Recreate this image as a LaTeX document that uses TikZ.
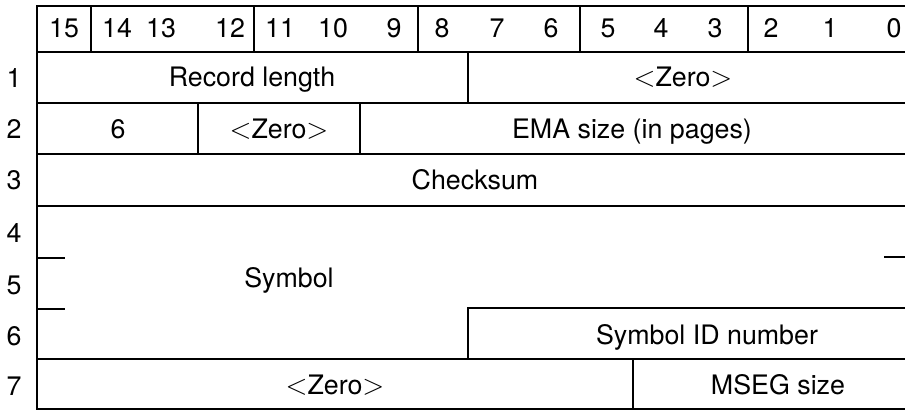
\documentclass[tikz,border=0pt]{standalone}
\usepackage{fontspec}
\setmainfont{TeX Gyre Heros}
\newcommand{\zerofield}{$<$Zero$>$}
\begin{document}
\begin{tikzpicture}[x=0.5pt,y=-0.5pt,
  grid/.style={line width=0.9pt,black,line cap=rect},
  lbl/.style={anchor=base,inner sep=0pt,font=\fontsize{13.4}{16}\selectfont}]
\useasboundingbox (0,0) rectangle (905,411);
% outer and row lines
\draw[grid] (37,6) -- (915,6);
\draw[grid] (37,52) -- (915,52);
\draw[grid] (37,103) -- (915,103);
\draw[grid] (37,154) -- (915,154);
\draw[grid] (37,206) -- (915,206);
\draw[grid] (468,308) -- (915,308);
\draw[grid] (37,359) -- (915,359);
\draw[grid] (37,409) -- (915,409);
\draw[grid] (37,6) -- (37,409);
% header dividers
\foreach \x in {91,254,418,580,748} \draw[grid] (\x,6) -- (\x,52);
% field dividers
\draw[grid] (468,52) -- (468,103);
\draw[grid] (198,103) -- (198,154);
\draw[grid] (360,103) -- (360,154);
\draw[grid] (468,308) -- (468,359);
\draw[grid] (633,359) -- (633,409);
% continuation ticks
\draw[grid] (37,258) -- (64,258);
\draw[grid] (37,309) -- (64,309);
\draw[grid] (885,257) -- (915,257);
% header bit numbers
\node[lbl] (h15) at (64,38) {15};
\node[lbl] (h14) at (117,38) {14};
\node[lbl] (h13) at (161,38) {13};
\node[lbl] (h12) at (230,38) {12};
\node[lbl] (h11) at (280,38) {11};
\node[lbl] (h10) at (333,38) {10};
\node[lbl] (h9) at (394,38) {9};
\node[lbl] (h8) at (442,38) {8};
\node[lbl] (h7) at (497,38) {7};
\node[lbl] (h6) at (551,38) {6};
\node[lbl] (h5) at (608,38) {5};
\node[lbl] (h4) at (661,38) {4};
\node[lbl] (h3) at (715,38) {3};
\node[lbl] (h2) at (771,38) {2};
\node[lbl] (h1) at (830,38) {1};
\node[lbl] (h0) at (894,38) {0};
% row numbers
\node[lbl] (r1) at (14,88) {1};
\node[lbl] (r2) at (14,139) {2};
\node[lbl] (r3) at (14,190) {3};
\node[lbl] (r4) at (14,243) {4};
\node[lbl] (r5) at (14,294) {5};
\node[lbl] (r6) at (14,345) {6};
\node[lbl] (r7) at (14,395) {7};
% fields
\node[lbl] (reclen) at (252,87) {Record length};
\node[lbl] (zero1) at (683,87) {\zerofield};
\node[lbl] (six) at (118,139) {6};
\node[lbl] (zero2) at (279,139) {\zerofield};
\node[lbl] (ema) at (632,139) {EMA size (in pages)};
\node[lbl] (cks) at (475,190) {Checksum};
\node[lbl] (sym) at (289,288) {Symbol};
\node[lbl] (symid) at (707,344) {Symbol ID number};
\node[lbl] (zero3) at (335,394) {\zerofield};
\node[lbl] (mseg) at (778,394) {MSEG size};
\end{tikzpicture}
\end{document}
